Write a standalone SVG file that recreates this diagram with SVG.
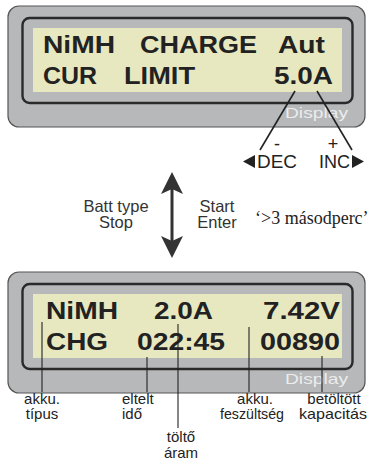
<svg xmlns="http://www.w3.org/2000/svg" width="372" height="461" viewBox="0 0 372 461">
  <style>
    .case { fill: #b6b8ba; stroke: #555; stroke-width: 1.2; }
    .bezel { fill: #b6b8ba; stroke: #2a2a2a; stroke-width: 2.4; }
    .lcd { fill: #e7e8c0; }
    .seg { font-family: "Liberation Sans", Arial, sans-serif; font-weight: bold; font-size: 24px; fill: #222; }
    .brand { font-family: "Liberation Sans", Arial, sans-serif; font-size: 15px; fill: #ececec; }
    .lbl { font-family: "Liberation Sans", Arial, sans-serif; font-size: 15px; fill: #222; }
    .key { font-family: "Liberation Sans", Arial, sans-serif; font-size: 16.5px; fill: #333; }
    .btn { font-family: "Liberation Sans", Arial, sans-serif; font-size: 18px; fill: #222; }
    .note { font-family: "Liberation Serif", "Times New Roman", serif; font-size: 18px; fill: #222; }
    .lead { stroke: #222; stroke-width: 1.1; fill: none; }
    .lead2 { stroke: #222; stroke-width: 1.6; fill: none; }
  </style>

  <!-- setup screen -->
  <g id="display-setup">
    <rect class="case" x="8" y="6" width="357" height="121" rx="11"/>
    <rect class="bezel" x="22.5" y="18" width="330" height="85" rx="7"/>
    <rect class="lcd" x="33" y="28" width="309" height="64"/>
    <text class="seg" x="43" y="53" textLength="72" lengthAdjust="spacingAndGlyphs">NiMH</text>
    <text class="seg" x="140" y="53" textLength="117" lengthAdjust="spacingAndGlyphs">CHARGE</text>
    <text class="seg" x="278" y="53" textLength="47" lengthAdjust="spacingAndGlyphs">Aut</text>
    <text class="seg" x="43" y="84" textLength="54" lengthAdjust="spacingAndGlyphs">CUR</text>
    <text class="seg" x="124" y="84" textLength="71" lengthAdjust="spacingAndGlyphs">LIMIT</text>
    <text class="seg" x="274" y="84" textLength="59" lengthAdjust="spacingAndGlyphs">5.0A</text>
    <text class="brand" x="285" y="118" textLength="63" lengthAdjust="spacingAndGlyphs">Display</text>
  </g>

  <!-- decrease / increase keys -->
  <g id="key-dec">
    <text class="btn" x="277" y="150" text-anchor="middle">-</text>
    <polygon points="243,161.5 255,155 255,168" fill="#222"/>
    <text class="btn" x="257" y="168" textLength="40" lengthAdjust="spacingAndGlyphs">DEC</text>
  </g>
  <g id="key-inc">
    <text class="btn" x="333" y="150" text-anchor="middle">+</text>
    <text class="btn" x="319" y="168" textLength="31" lengthAdjust="spacingAndGlyphs">INC</text>
    <polygon points="352,155 352,168 364,161.5" fill="#222"/>
  </g>

  <!-- mode switch -->
  <g id="mode-switch">
    <text class="key" x="116" y="212" text-anchor="middle">Batt type</text>
    <text class="key" x="116" y="228" text-anchor="middle">Stop</text>
    <text class="key" x="217" y="212" text-anchor="middle">Start</text>
    <text class="key" x="217" y="228" text-anchor="middle">Enter</text>
    <text class="note" x="255" y="224">‘&gt;3 másodperc’</text>
  </g>

  <!-- running screen -->
  <g id="display-run">
    <rect class="case" x="8" y="272" width="357" height="121" rx="11"/>
    <rect class="bezel" x="22.5" y="284" width="330" height="85" rx="7"/>
    <rect class="lcd" x="33" y="294" width="309" height="64"/>
    <text class="seg" x="46" y="319" textLength="72" lengthAdjust="spacingAndGlyphs">NiMH</text>
    <text class="seg" x="154" y="319" textLength="59" lengthAdjust="spacingAndGlyphs">2.0A</text>
    <text class="seg" x="263" y="319" textLength="77" lengthAdjust="spacingAndGlyphs">7.42V</text>
    <text class="seg" x="46" y="350" textLength="62" lengthAdjust="spacingAndGlyphs">CHG</text>
    <text class="seg" x="137" y="350" textLength="88" lengthAdjust="spacingAndGlyphs">022:45</text>
    <text class="seg" x="260" y="350" textLength="80" lengthAdjust="spacingAndGlyphs">00890</text>
    <text class="brand" x="285" y="384" textLength="63" lengthAdjust="spacingAndGlyphs">Display</text>
  </g>

  <!-- field captions -->
  <g id="cap-type">
    <text class="lbl" x="42" y="404" text-anchor="middle">akku.</text>
    <text class="lbl" x="42" y="419" text-anchor="middle">típus</text>
  </g>
  <g id="cap-time">
    <text class="lbl" x="122" y="404">eltelt</text>
    <text class="lbl" x="122" y="419">idő</text>
  </g>
  <g id="cap-current">
    <text class="lbl" x="181" y="442" text-anchor="middle">töltő</text>
    <text class="lbl" x="181" y="458" text-anchor="middle">áram</text>
  </g>
  <g id="cap-voltage">
    <text class="lbl" x="255" y="404" text-anchor="middle">akku.</text>
    <text class="lbl" x="252" y="419" text-anchor="middle" textLength="64" lengthAdjust="spacingAndGlyphs">feszültség</text>
  </g>
  <g id="cap-capacity">
    <text class="lbl" x="334" y="404" text-anchor="middle">betöltött</text>
    <text class="lbl" x="333" y="419" text-anchor="middle" textLength="68" lengthAdjust="spacingAndGlyphs">kapacitás</text>
  </g>

  <!-- connectors -->
  <g id="connectors">
    <line class="lead2" x1="295" y1="91" x2="260" y2="150"/>
    <line class="lead2" x1="317" y1="91" x2="352" y2="150"/>
    <line x1="172" y1="186" x2="172" y2="244" stroke="#333" stroke-width="3"/>
    <polygon points="172,172 183,194 172,189 161,194" fill="#333"/>
    <polygon points="172,258 183,236 172,241 161,236" fill="#333"/>
    <line class="lead" x1="42" y1="322" x2="42" y2="392"/>
    <line class="lead" x1="147" y1="357" x2="147" y2="392"/>
    <line class="lead" x1="178" y1="324" x2="178" y2="428"/>
    <line class="lead" x1="249" y1="327" x2="249" y2="392"/>
    <line class="lead" x1="322" y1="356" x2="322" y2="392"/>
  </g>
</svg>
